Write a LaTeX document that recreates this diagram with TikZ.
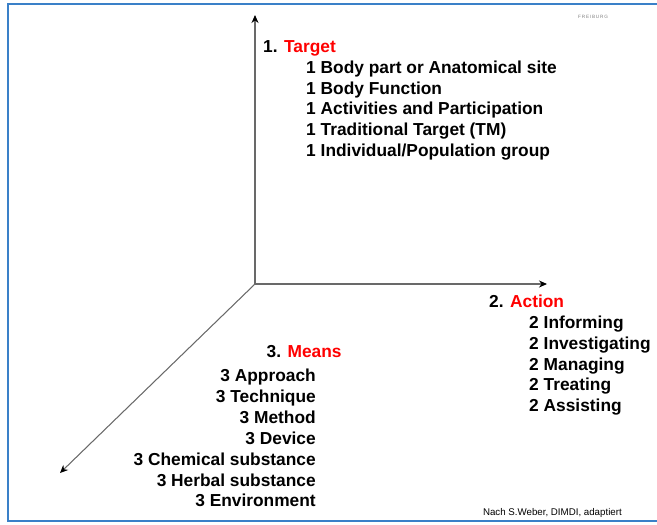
\documentclass[tikz,border=0pt]{standalone}
\usepackage{fontspec}
\setmainfont{Liberation Sans}
\usetikzlibrary{arrows.meta, positioning}
\definecolor{frameblue}{RGB}{58, 128, 200}
\definecolor{headred}{RGB}{255, 0, 0}
\definecolor{axisgray}{RGB}{105, 105, 105}

\begin{document}
\begin{tikzpicture}[x=0.03cm, y=-0.03cm,
  axis/.style={-{Stealth[length=2.4mm, width=2.1mm, black]}, axisgray, line width=0.9pt},
  item/.style={font=\fontsize{14.8}{17}\selectfont\bfseries, inner sep=0pt}]
  \useasboundingbox (0,0) rectangle (657,524);

  % Frame
  \draw[frameblue, line width=1.8pt] (660,4) -- (8,4) -- (8,521) -- (660,521);
  \node[font=\fontsize{4}{5}\selectfont, text=gray, anchor=base west, inner sep=0pt] (logo) at (578,18) {F\,R\,E\,I\,B\,U\,R\,G};

  % Axes
  \coordinate (origin) at (255,284);
  \coordinate (targettip) at (255,15);
  \coordinate (actiontip) at (547,284);
  \coordinate (meanstip) at (60,473);
  \draw[axis] (origin) -- (targettip);
  \draw[axis] (origin) -- (actiontip);
  \draw[axis] (origin) -- (meanstip);

  % 1. Target
  \node[item, anchor=base west] (target) at (263,52.3) {1. \textcolor{headred}{Target}};
  \foreach \txt [count=\i] in {Body part or Anatomical site, Body Function, Activities and Participation, Traditional Target (TM), Individual/Population group}
    \node[item, anchor=base west] (target\i) at (306,{52.3+20.85*\i}) {1 \txt};

  % 2. Action
  \node[item, anchor=base west] (action) at (489,307.5) {2. \textcolor{headred}{Action}};
  \foreach \txt [count=\i] in {Informing, Investigating, Managing, Treating, Assisting}
    \node[item, anchor=base west] (action\i) at (529,{307.5+20.85*\i}) {2 \txt};

  % 3. Means
  \node[item, anchor=base west] (means) at (266.5,357.5) {3. \textcolor{headred}{Means}};
  \foreach \txt [count=\i] in {Approach, Technique, Method, Device, Chemical substance, Herbal substance, Environment}
    \node[item, anchor=base east] (means\i) at (316,{361+20.85*\i}) {3 \txt};

  % Source
  \node[font=\fontsize{8.3}{10}\selectfont, anchor=base east, inner sep=0pt] (credit) at (622,515) {Nach S.Weber, DIMDI, adaptiert};
\end{tikzpicture}
\end{document}
